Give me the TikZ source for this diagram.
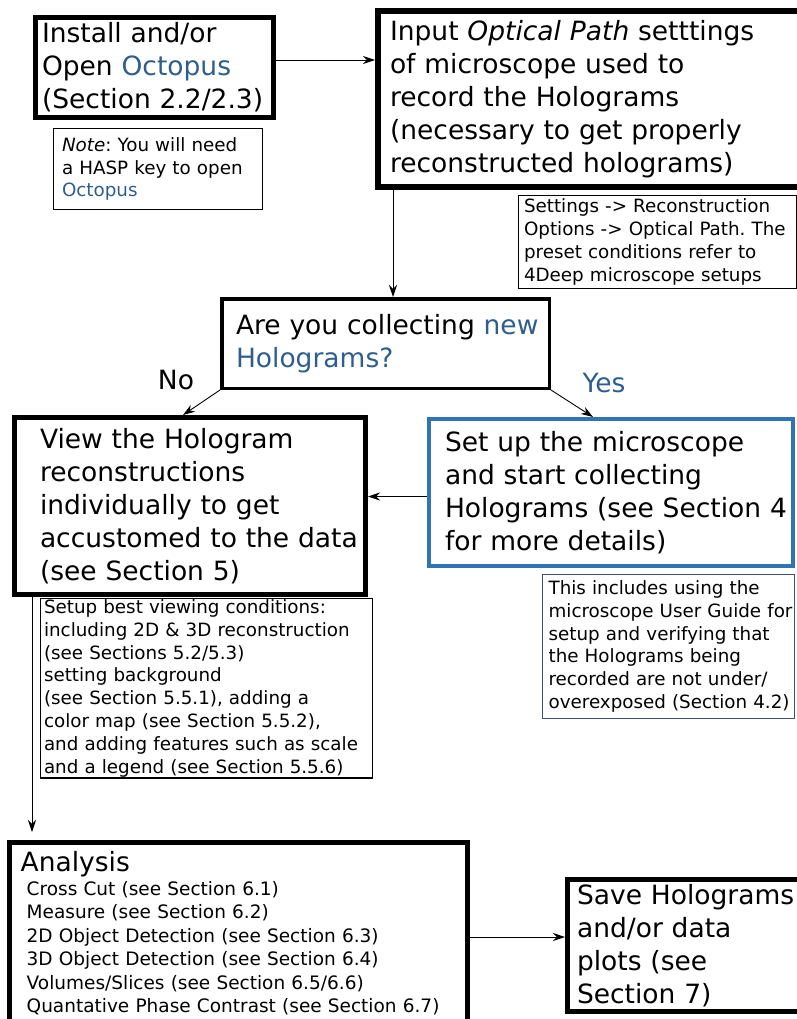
\documentclass[tikz,border=0pt]{standalone}
\usepackage{fontspec}
\setmainfont{DejaVu Sans}
\usetikzlibrary{arrows.meta, positioning}
\definecolor{octoblue}{RGB}{46,94,142}
\definecolor{setupblue}{RGB}{46,116,182}
\definecolor{notegrey}{RGB}{58,84,118}
\newcommand\bigfont{\fontsize{26.5}{33}\selectfont}
\newcommand\notefont{\fontsize{18.3}{22.8}\selectfont}
\frenchspacing

\tikzset{
  stepbox/.style={draw, line width=5pt, anchor=north west, align=left, inner xsep=4pt, inner ysep=3pt, font=\bigfont},
  notebox/.style={draw, line width=1.2pt, anchor=north west, align=left, inner xsep=3pt, inner ysep=1pt, font=\notefont},
  lskip/.style={execute at begin node={\leftskip=#1}},
  flow/.style={-{Stealth[length=12pt,width=8pt]}, line width=0.9pt},
  answer/.style={font=\bigfont, inner sep=0pt},
}

\begin{document}
\begin{tikzpicture}[x=1pt, y=-1pt]
      \useasboundingbox (0,0) rectangle (797,1019);
      \clip (0,0) rectangle (797,1019);

      % main steps
      \node[stepbox, text width=230pt, minimum height=100pt, lskip=2.5pt] (install) at (33,15)
            {Install and/or\\ Open \textcolor{octoblue}{Octopus}\\ (Section 2.2/2.3)};
      \node[stepbox, line width=6pt, text width=426pt, minimum height=176pt, lskip=8pt] (optics) at (375,8)
            {Input \textit{Optical Path} setttings\\ of microscope used to\\ record the Holograms\\ (necessary to get properly\\ reconstructed holograms)};
      \node[stepbox, line width=3.5pt, text width=319.5pt, minimum height=89.5pt, lskip=10.25pt] (collect) at (220,297)
            {Are you collecting \textcolor{octoblue}{new}\\ \textcolor{octoblue}{Holograms?}};
      \node[stepbox, text width=343pt, minimum height=177pt, lskip=21.5pt] (view) at (12,415)
            {View the Hologram\\ reconstructions\\ individually to get\\ accustomed to the data\\ (see Section 5)};
      \node[stepbox, draw=setupblue, line width=4pt, inner xsep=2pt, text width=360pt, minimum height=147pt, lskip=14pt] (setup) at (427,417)
            {Set up the microscope\\ and start collecting\\ Holograms (see Section 4\\ for more details)};
      \node[stepbox, text width=450pt, inner ysep=9pt, lskip=7.2pt, font=\fontsize{18.5}{23.5}\selectfont] (analysis) at (7,840)
            {{\fontsize{26.5}{23.5}\selectfont Analysis}\\
             \hspace*{6pt}Cross Cut (see Section 6.1)\\
             \hspace*{6pt}Measure (see Section 6.2)\\
             \hspace*{6pt}2D Object Detection (see Section 6.3)\\
             \hspace*{6pt}3D Object Detection (see Section 6.4)\\
             \hspace*{6pt}Volumes/Slices (see Section 6.5/6.6)\\
             \hspace*{6pt}Quantative Phase Contrast (see Section 6.7)};
      \node[stepbox, text width=227pt, minimum height=132pt, lskip=5.5pt] (save) at (565,877)
            {Save Holograms\\ and/or data\\ plots (see\\ Section 7)};

      % notes
      \node[notebox, text width=202.8pt, minimum height=80.8pt, lskip=5.4pt] (hasp) at (53,128)
            {\textit{Note}: You will need\\ a HASP key to open\\ \textcolor{octoblue}{Octopus}};
      \node[notebox, text width=271.8pt, minimum height=92.8pt, lskip=2.4pt] (optnote) at (518,195)
            {Settings -> Reconstruction\\ Options -> Optical Path. The\\ preset conditions refer to\\ 4Deep microscope setups};
      \node[notebox, text width=327.8pt, minimum height=178.8pt, inner xsep=2pt, lskip=1.4pt] (viewnote) at (40,598)
            {Setup best viewing conditions:\\ including 2D \& 3D reconstruction\\ (see Sections 5.2/5.3)\\ setting background\\ (see Section 5.5.1), adding a\\ color map (see Section 5.5.2),\\ and adding features such as scale\\ and a legend (see Section 5.5.6)};
      \node[notebox, draw=notegrey, inner xsep=1pt, text width=250pt, minimum height=143.8pt, lskip=5pt] (guide) at (542,574)
            {This includes using the\\ microscope User Guide for\\ setup and verifying that\\ the Holograms being\\ recorded are not under/\\ overexposed (Section 4.2)};

      % answers
      \node[answer] (no) at (176,380) {No};
      \node[answer, text=octoblue] (yes) at (604,383) {Yes};

      \draw[flow] ([yshift=7.5pt]install.east) -- ([yshift=7.5pt]install.east -| optics.west);
      \draw[flow] ([xshift=18pt]optics.south west) -- ([xshift=18pt]optics.south west |- collect.north);
      \draw[flow] (collect.south west) -- ([xshift=-7pt]view.north);
      \draw[flow] (collect.south east) -- ([xshift=-18pt]setup.north);
      \draw[flow] ([yshift=-4pt]setup.west) -- ([yshift=-4pt]setup.west -| view.east);
      \draw[flow, shorten >=8pt] ([xshift=20pt]view.south west) -- ([xshift=20pt]view.south west |- analysis.north);
      \draw[flow] ([yshift=8.5pt]save.west -| analysis.east) -- ([yshift=8.5pt]save.west);
\end{tikzpicture}
\end{document}
